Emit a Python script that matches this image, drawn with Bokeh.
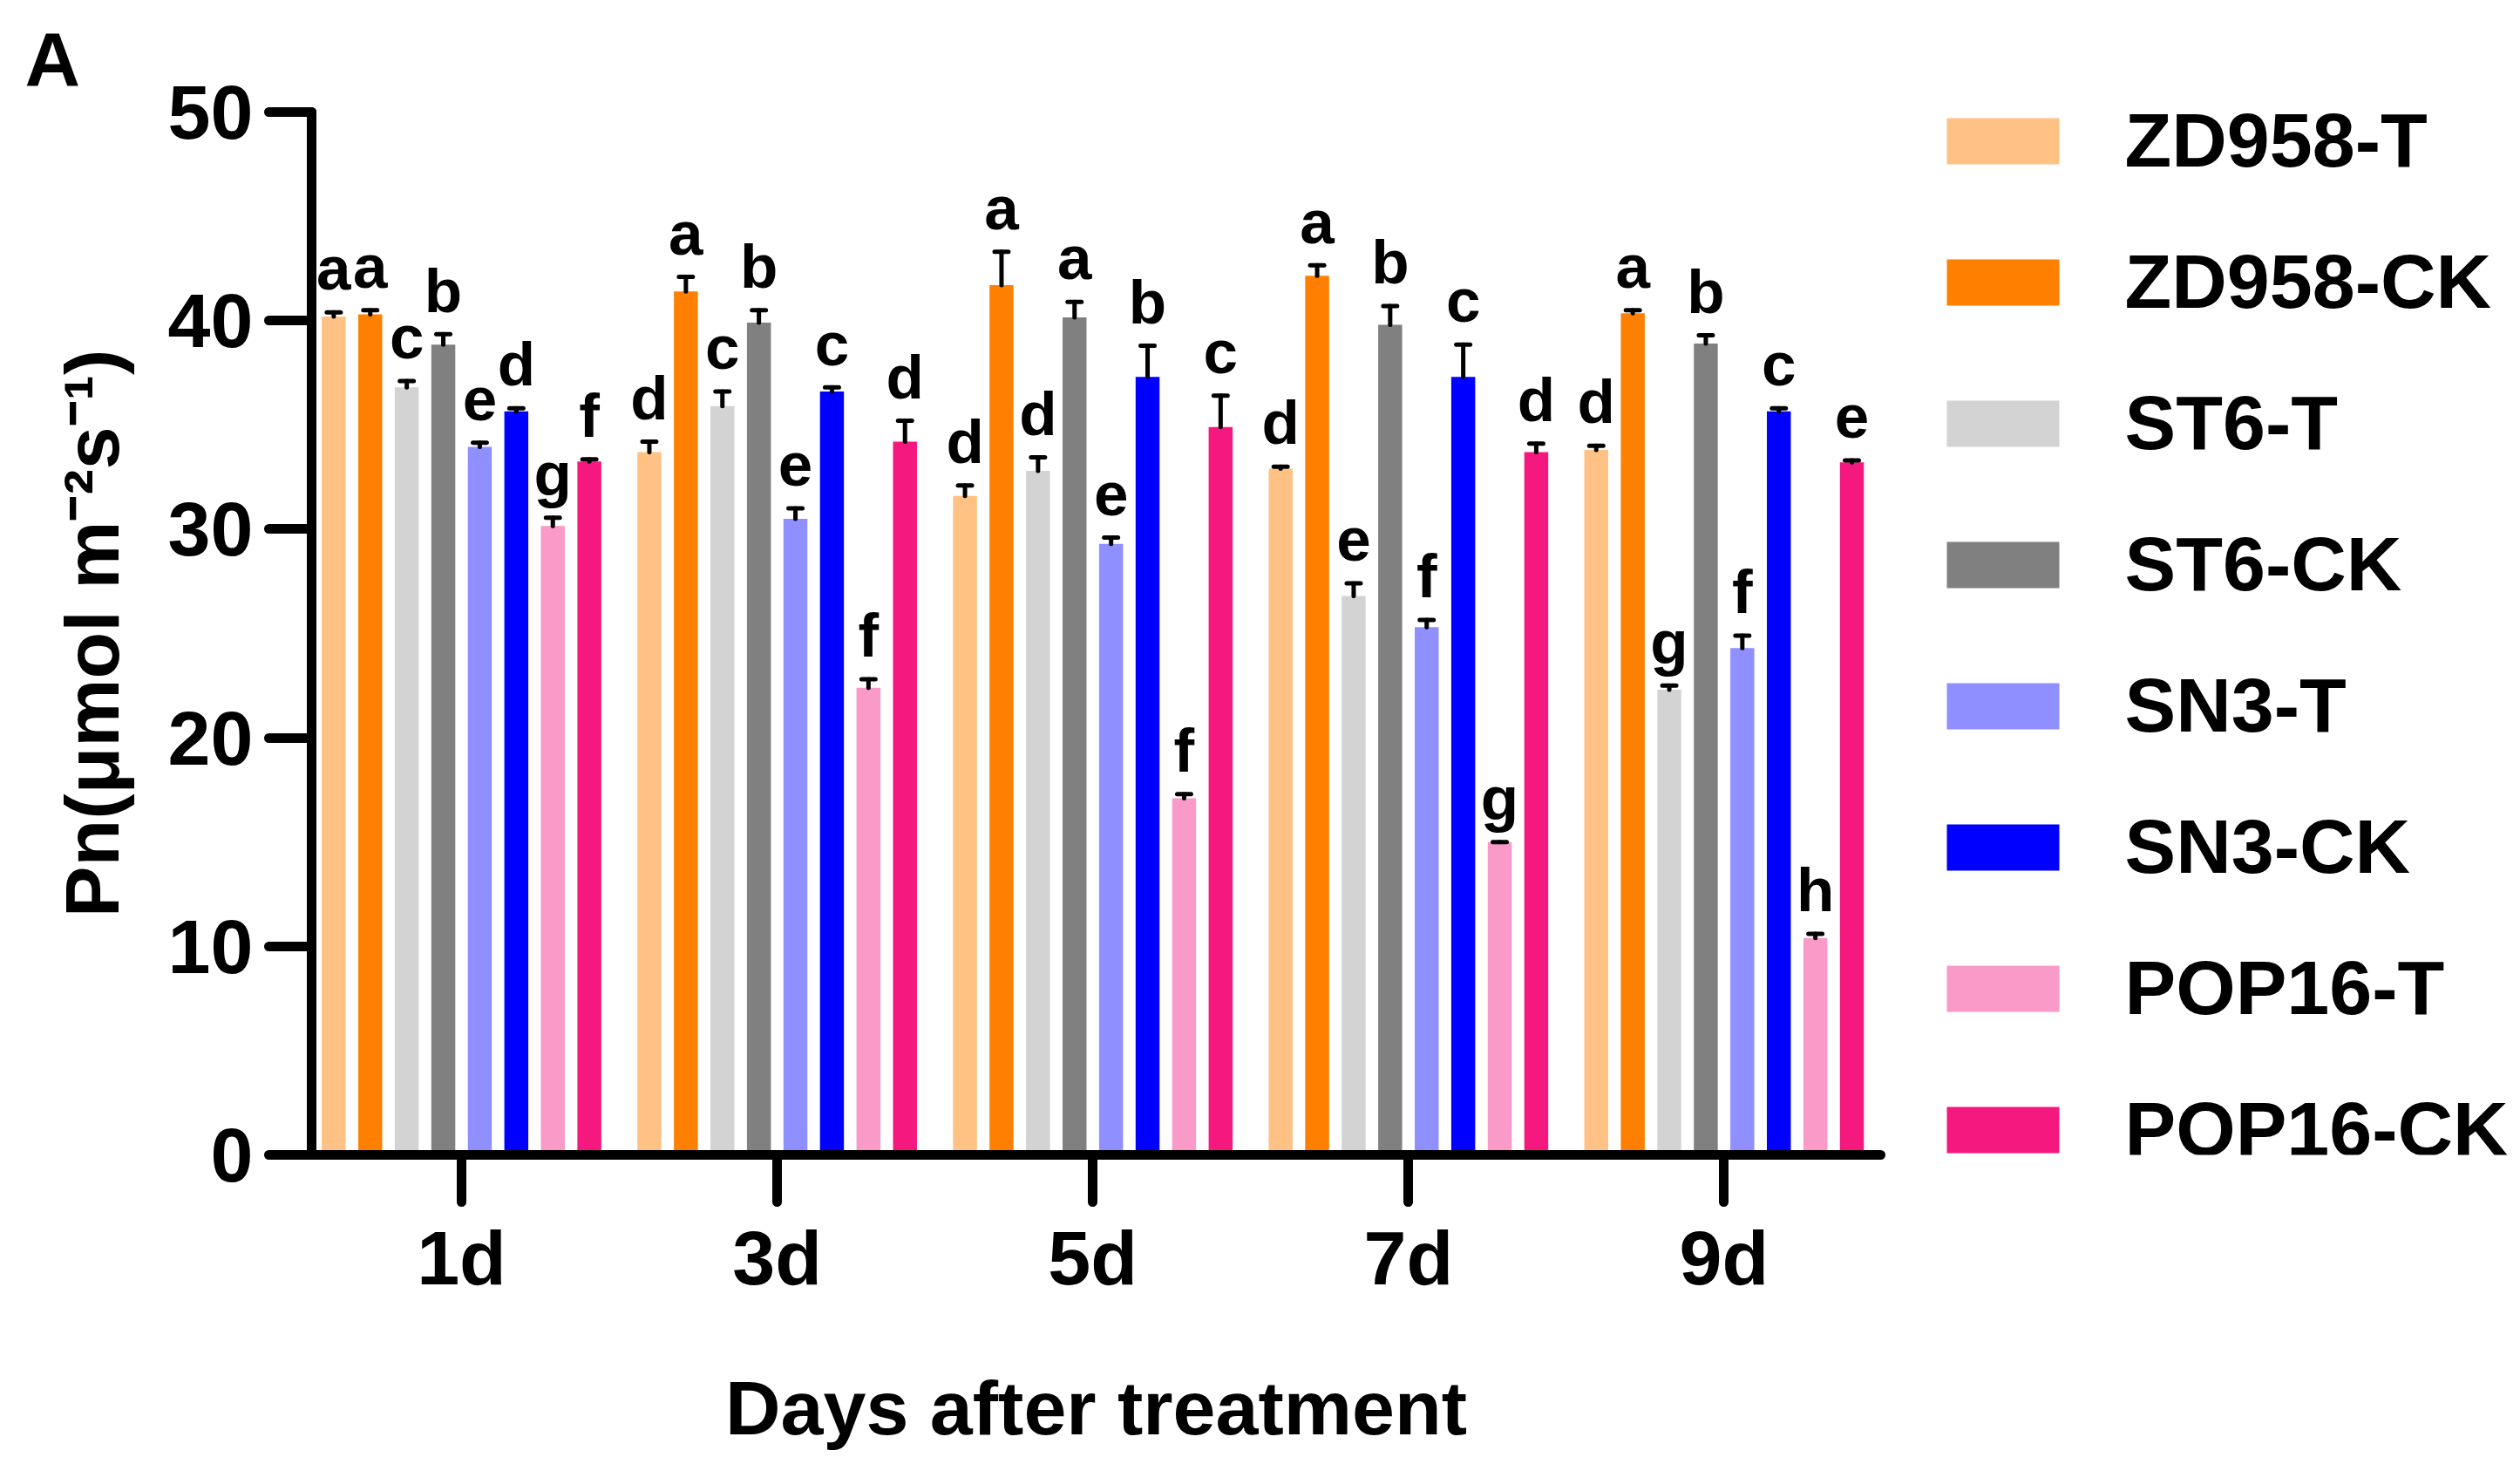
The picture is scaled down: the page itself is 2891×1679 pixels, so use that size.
from bokeh.plotting import figure
from bokeh.models import ColumnDataSource, FixedTicker, Range1d
from bokeh.layouts import row
from bokeh.core.properties import value
from bokeh.embed import file_html
from bokeh.resources import INLINE

# ---------------- data ----------------
days = ["1d", "3d", "5d", "7d", "9d"]
series_names = ["ZD958-T", "ZD958-CK", "ST6-T", "ST6-CK", "SN3-T", "SN3-CK", "POP16-T", "POP16-CK"]
series_colors = ["#FFC284", "#FF8000", "#D3D3D3", "#808080", "#8F8FFF", "#0000FF", "#F99AC9", "#F5187F"]

zd958_t = [40.2, 33.7, 31.6, 32.9, 33.8]
zd958_ck = [40.3, 41.4, 41.7, 42.15, 40.35]
st6_t = [36.8, 35.9, 32.8, 26.8, 22.3]
st6_ck = [38.85, 39.9, 40.15, 39.8, 38.9]
sn3_t = [33.95, 30.5, 29.3, 25.3, 24.3]
sn3_ck = [35.65, 36.6, 37.3, 37.3, 35.65]
pop16_t = [30.15, 22.4, 17.1, 15.0, 10.4]
pop16_ck = [33.25, 34.2, 34.9, 33.7, 33.2]

zd958_t_err = [0.2, 0.5, 0.5, 0.1, 0.2]
zd958_ck_err = [0.2, 0.7, 1.6, 0.5, 0.15]
st6_t_err = [0.3, 0.7, 0.65, 0.6, 0.2]
st6_ck_err = [0.5, 0.6, 0.75, 0.9, 0.4]
sn3_t_err = [0.2, 0.5, 0.3, 0.35, 0.6]
sn3_ck_err = [0.15, 0.2, 1.5, 1.55, 0.15]
pop16_t_err = [0.4, 0.4, 0.2, 0.0, 0.2]
pop16_ck_err = [0.1, 1.0, 1.5, 0.4, 0.1]

zd958_t_sig = ["a", "d", "d", "d", "d"]
zd958_ck_sig = ["a", "a", "a", "a", "a"]
st6_t_sig = ["c", "c", "d", "e", "g"]
st6_ck_sig = ["b", "b", "a", "b", "b"]
sn3_t_sig = ["e", "e", "e", "f", "f"]
sn3_ck_sig = ["d", "c", "b", "c", "c"]
pop16_t_sig = ["g", "f", "f", "g", "h"]
pop16_ck_sig = ["f", "d", "c", "d", "e"]

y_ticks = [0, 10, 20, 30, 40, 50]

series_values = [zd958_t, zd958_ck, st6_t, st6_ck, sn3_t, sn3_ck, pop16_t, pop16_ck]
series_errors = [zd958_t_err, zd958_ck_err, st6_t_err, st6_ck_err, sn3_t_err, sn3_ck_err, pop16_t_err, pop16_ck_err]
series_sigs = [zd958_t_sig, zd958_ck_sig, st6_t_sig, st6_ck_sig, sn3_t_sig, sn3_ck_sig, pop16_t_sig, pop16_ck_sig]

# ---------------- layout constants ----------------
FONT = "Liberation Sans"
H = 1676
W_TOTAL = 2888
W_MAIN = 2168
W_LEG = W_TOTAL - W_MAIN
FRAME_LEFT = 357
FRAME_RIGHT = 2157
FRAME_TOP = 128
FRAME_BOTTOM = 1324
BAR_PITCH = 0.1157
BAR_W = 0.0759
CAP_HALF = 0.022
SIG_OFFSET = 2.1

p = figure(width=W_MAIN, height=H, output_backend="svg", toolbar_location=None,
           title="A",
           x_range=(-0.475, 4.496), y_range=(0, 50),
           min_border_left=FRAME_LEFT, min_border_right=W_MAIN - FRAME_RIGHT,
           min_border_top=FRAME_TOP, min_border_bottom=H - FRAME_BOTTOM)
p.outline_line_color = None
p.xgrid.visible = False
p.ygrid.visible = False
p.background_fill_color = "white"
p.border_fill_color = "white"
p.title.align = "left"
p.title.offset = 28 - FRAME_LEFT
p.title.standoff = 24
p.title.text_font = FONT
p.title.text_font_style = "bold"
p.title.text_font_size = "88px"
p.title.text_color = "black"

group_x = list(range(len(days)))
for i, (name, color, vals, errs, sigs) in enumerate(zip(series_names, series_colors, series_values,
                                                         series_errors, series_sigs)):
    xs = [g + (i - 3.5) * BAR_PITCH for g in group_x]
    tops = [v + e for v, e in zip(vals, errs)]
    src = ColumnDataSource(dict(
        x=xs, top=vals, etop=tops,
        cx0=[x - CAP_HALF for x in xs], cx1=[x + CAP_HALF for x in xs],
        sig=sigs, sy=[t + SIG_OFFSET for t in tops]))
    p.vbar(x="x", top="top", bottom=0, width=BAR_W, source=src,
           fill_color=color, line_color=None)
    p.segment(x0="x", y0="top", x1="x", y1="etop", source=src,
              line_color="black", line_width=5, line_cap="round")
    p.segment(x0="cx0", y0="etop", x1="cx1", y1="etop", source=src,
              line_color="black", line_width=5, line_cap="round")
    p.text(x="x", y="sy", text="sig", source=src, text_align="center",
           text_baseline="alphabetic", text_font=value(FONT), text_font_style="bold",
           text_font_size="71px", text_color="black")

# axes
for ax in (p.xaxis[0], p.yaxis[0]):
    ax.axis_line_width = 11
    ax.axis_line_color = "black"
    ax.axis_line_cap = "round"
    ax.major_tick_line_width = 11
    ax.major_tick_line_color = "black"
    ax.major_tick_line_cap = "round"
    ax.major_tick_in = 0
    ax.minor_tick_line_color = None
    ax.major_label_text_font = FONT
    ax.major_label_text_font_style = "bold"
    ax.major_label_text_font_size = "88px"
    ax.major_label_text_color = "black"
    ax.axis_label_text_font = FONT
    ax.axis_label_text_font_style = "bold"
    ax.axis_label_text_font_size = "88px"
    ax.axis_label_text_color = "black"

p.xaxis.ticker = FixedTicker(ticks=group_x)
p.xaxis.major_label_overrides = {g: d for g, d in zip(group_x, days)}
p.xaxis.major_tick_out = 54
p.xaxis.major_label_standoff = 14
p.xaxis.axis_label = "Days after treatment"
p.xaxis.axis_label_standoff = 70

p.yaxis.ticker = FixedTicker(ticks=y_ticks)
p.yaxis.major_tick_out = 49
p.yaxis.major_label_standoff = 18
p.yaxis.axis_label = "Pn(\u03bcmol m\u207b\u00b2s\u207b\u00b9)"
p.yaxis.axis_label_standoff = 35

# ---------------- legend panel (frame aligned with the main plot's frame) ----------------
LEG_SW_LEFT = 2233
LEG_SW_W = 129
LEG_SW_H = 53
LEG_TOP0 = 135
LEG_PITCH = 162
LEG_TEXT_X = 2437
LEG_TEXT_DY = -2

leg = figure(width=W_LEG, height=H, output_backend="svg", toolbar_location=None,
             x_range=Range1d(W_MAIN, W_MAIN + W_LEG),
             y_range=Range1d(FRAME_BOTTOM, FRAME_TOP),
             x_axis_type=None, y_axis_type=None,
             min_border_left=0, min_border_right=0,
             min_border_top=FRAME_TOP, min_border_bottom=H - FRAME_BOTTOM)
leg.outline_line_color = None
leg.grid.visible = False
leg.background_fill_color = "white"
leg.border_fill_color = "white"

tops_leg = [LEG_TOP0 + k * LEG_PITCH for k in range(len(series_names))]
leg_src = ColumnDataSource(dict(
    left=[LEG_SW_LEFT] * len(series_names),
    right=[LEG_SW_LEFT + LEG_SW_W] * len(series_names),
    top=tops_leg,
    bottom=[t + LEG_SW_H for t in tops_leg],
    ty=[t + LEG_SW_H / 2 + LEG_TEXT_DY for t in tops_leg],
    tx=[LEG_TEXT_X] * len(series_names),
    name=series_names, color=series_colors))
leg.quad(left="left", right="right", top="top", bottom="bottom", fill_color="color",
         line_color=None, source=leg_src)
leg.text(x="tx", y="ty", text="name", source=leg_src, text_align="left",
         text_baseline="middle", text_font=value(FONT), text_font_style="bold",
         text_font_size="88px", text_color="black")

layout = row(p, leg, spacing=0)
open("out.html", "w").write(file_html(layout, INLINE))
